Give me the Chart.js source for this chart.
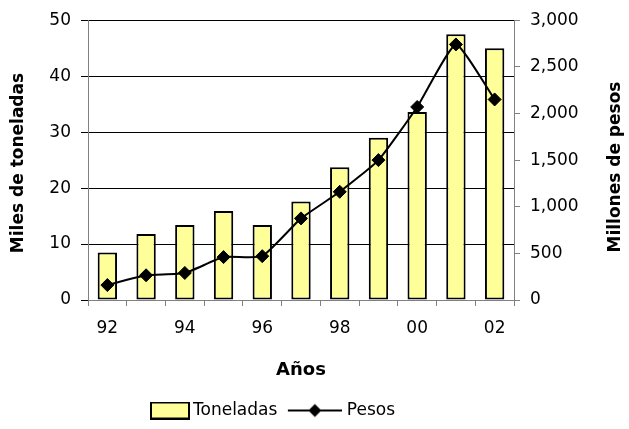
<!DOCTYPE html>
<html>
<head>
<meta charset="utf-8">
<script src="https://cdn.jsdelivr.net/npm/chart.js@4/dist/chart.umd.min.js"></script>
<style>
  html, body { margin: 0; padding: 0; background: #fff; }
  #wrap { width: 629px; height: 429px; position: relative; }
</style>
</head>
<body>
<div id="wrap"><canvas id="chart"></canvas></div>
<script>
  // data
  const years = ['92', '93', '94', '95', '96', '97', '98', '99', '00', '01', '02'];
  const toneladas = [8.5, 11.8, 13.4, 15.9, 13.4, 17.6, 23.7, 29.0, 33.6, 47.5, 45.0];
  const pesos = [160, 265, 290, 460, 470, 875, 1160, 1500, 2070, 2740, 2150];
  const leftTicks = [0, 10, 20, 30, 40, 50];
  const rightTicks = [0, 500, 1000, 1500, 2000, 2500, 3000];

  const FONT = '"DejaVu Sans", sans-serif';
  const AXIS_GRAY = '#808080';
  const LEG_PAD = 7;

  // legend swatches: yellow box and line-with-diamond
  function swatchBox() {
    const c = document.createElement('canvas');
    c.width = 65; c.height = 18;
    const g = c.getContext('2d');
    g.fillStyle = '#FFFF99';
    g.fillRect(26, 1, 38, 16);
    g.strokeStyle = '#000'; g.lineWidth = 2;
    g.strokeRect(26, 1, 38, 16);
    return c;
  }
  function swatchLine() {
    const c = document.createElement('canvas');
    c.width = 61; c.height = 16;
    const g = c.getContext('2d');
    g.strokeStyle = '#000'; g.lineWidth = 2;
    g.beginPath(); g.moveTo(7, 8); g.lineTo(61, 8); g.stroke();
    g.fillStyle = '#000';
    g.beginPath(); g.moveTo(34 - 6.5, 8); g.lineTo(34, 1.5); g.lineTo(34 + 6.5, 8); g.lineTo(34, 14.5); g.closePath(); g.fill();
    return c;
  }

  // both vertical titles read bottom-to-top; drawn here so they sit where the reference has them
  function vTitle(ctx, text, x, y) {
    ctx.save();
    ctx.translate(x, y);
    ctx.rotate(-Math.PI / 2);
    ctx.font = 'bold 17px ' + FONT;
    ctx.fillStyle = '#000';
    ctx.textAlign = 'center';
    ctx.textBaseline = 'middle';
    ctx.fillText(text, 0, 0);
    ctx.restore();
  }
  const sideTitles = {
    id: 'sideTitles',
    afterDraw(chart) {
      vTitle(chart.ctx, 'Miles de toneladas', 19, 163);
      vTitle(chart.ctx, 'Millones de pesos', 616, 167);
    }
  };

  // legend sits left of centre in the reference
  const legendShift = {
    id: 'legendShift',
    afterLayout(chart) {
      const lg = chart.legend;
      const startX = 130.5;
      lg.left = 2 * startX - LEG_PAD - lg.right + lg.lineWidths[0];
    }
  };

  new Chart(document.getElementById('chart'), {
    data: {
      labels: years,
      datasets: [
        {
          type: 'line', label: 'Pesos', data: pesos, yAxisID: 'y1', order: 0,
          borderColor: '#000', borderWidth: 2, tension: 0.15,
          pointStyle: 'rectRot', pointRadius: 6.5, pointBackgroundColor: '#000', pointBorderColor: '#000', pointBorderWidth: 1,
        },
        {
          type: 'bar', label: 'Toneladas', data: toneladas, yAxisID: 'y', order: 1,
          backgroundColor: '#FFFF99', borderColor: '#000', borderWidth: 2, borderSkipped: false,
          categoryPercentage: 1, barPercentage: 0.5,
        },
      ],
    },
    options: {
      responsive: true, maintainAspectRatio: false, animation: false,
      layout: { padding: { top: 19, left: 0, right: 0, bottom: 0 } },
      plugins: {
        tooltip: { enabled: false },
        legend: {
          position: 'bottom', align: 'center',
          labels: {
            color: '#000', font: { family: FONT, size: 17 }, padding: LEG_PAD,
            usePointStyle: true, pointStyleWidth: 54,
            generateLabels: () => [
              { text: 'Toneladas', pointStyle: swatchBox(), fillStyle: '#FFFF99', strokeStyle: '#000', lineWidth: 0, datasetIndex: 1 },
              { text: 'Pesos', pointStyle: swatchLine(), fillStyle: '#000', strokeStyle: '#000', lineWidth: 0, datasetIndex: 0 },
            ],
          },
        },
      },
      scales: {
        x: {
          offset: true,
          grid: { display: true, drawOnChartArea: false, offset: true, tickLength: 6, color: AXIS_GRAY },
          border: { color: AXIS_GRAY, width: 1 },
          ticks: {
            autoSkip: false, maxRotation: 0, padding: 12, color: '#000',
            font: { family: FONT, size: 17 },
            callback: (v, i) => (i % 2 === 0 ? years[i] : ''),
          },
          title: { display: true, text: 'Años', color: '#000', font: { family: FONT, size: 18, weight: 'bold' }, padding: { top: 14, bottom: 14 } },
          afterFit: (s) => { s.height = 95; },
        },
        y: {
          position: 'left', min: 0, max: 50,
          afterBuildTicks: (s) => { s.ticks = leftTicks.map((v) => ({ value: v })); },
          grid: { color: '#000', lineWidth: 1, tickLength: 7 },
          border: { color: AXIS_GRAY, width: 1 },
          ticks: { padding: 10, color: '#000', font: { family: FONT, size: 17 } },
          afterFit: (s) => { s.width = 88; },
        },
        y1: {
          position: 'right', min: 0, max: 3000,
          afterBuildTicks: (s) => { s.ticks = rightTicks.map((v) => ({ value: v })); },
          grid: { drawOnChartArea: false, color: AXIS_GRAY, tickLength: 6 },
          border: { color: AXIS_GRAY, width: 1 },
          ticks: { padding: 10, color: '#000', font: { family: FONT, size: 17 }, callback: (v) => v.toLocaleString('en-US') },
          afterFit: (s) => { s.width = 115; },
        },
      },
    },
    plugins: [sideTitles, legendShift],
  });
</script>
</body>
</html>
